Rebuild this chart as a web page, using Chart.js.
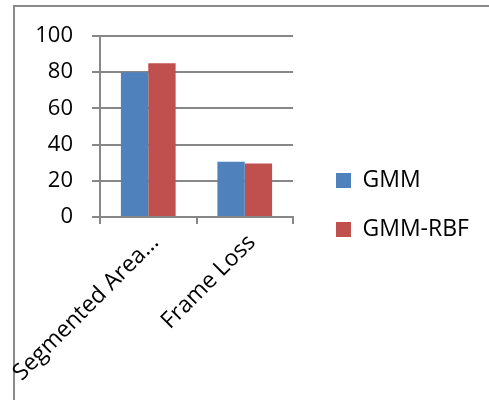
<!DOCTYPE html>
<html>
<head>
<meta charset="utf-8">
<script src="https://cdn.jsdelivr.net/npm/chart.js@4.4.0/dist/chart.umd.min.js"></script>
<style>
  html, body { margin: 0; padding: 0; background: #fff; }
  canvas { display: block; }
</style>
</head>
<body>
<canvas id="chart" width="489" height="400"></canvas>
<script>
// Categories and series values
const categories = ['Segmented Area...', 'Frame Loss'];
const gmmValues = [80, 30.5];
const gmmRbfValues = [85, 29.5];
const yTickValues = [0, 20, 40, 60, 80, 100];

const FONT = '"Open Sans", "DejaVu Sans", sans-serif';
const GRID = '#878787';
const LEGEND_WIDTH = 196;

// White background plus the outer frame (left and top edges)
const framePlugin = {
  id: 'frame',
  beforeDraw(chart) {
    const ctx = chart.ctx;
    ctx.save();
    ctx.fillStyle = '#fff';
    ctx.fillRect(0, 0, chart.width, chart.height);
    ctx.strokeStyle = '#8a8a8a';
    ctx.lineWidth = 2;
    ctx.beginPath();
    ctx.moveTo(14, chart.height + 5);
    ctx.lineTo(14, 6);
    ctx.lineTo(chart.width + 5, 6);
    ctx.stroke();
    ctx.restore();
  }
};

// Give the right-hand legend a fixed column width and nudge its items
const legendPlacement = {
  id: 'legendPlacement',
  beforeUpdate(chart) {
    const legend = chart.legend;
    if (legend && !legend._fixedFit) {
      const fit = legend.fit;
      legend.fit = function () {
        fit.call(this);
        if (this.options.display) this.width = LEGEND_WIDTH;
      };
      legend._fixedFit = true;
    }
  },
  afterLayout(chart) {
    const legend = chart.legend;
    if (!legend) return;
    legend.left += 17; legend.right += 17;
    legend.top -= 13; legend.bottom -= 13;
  }
};

new Chart(document.getElementById('chart'), {
  type: 'bar',
  data: {
    labels: categories,
    datasets: [
      { label: 'GMM', data: gmmValues, backgroundColor: '#4F81BD' },
      { label: 'GMM-RBF', data: gmmRbfValues, backgroundColor: '#C0504D' }
    ]
  },
  options: {
    responsive: false,
    animation: false,
    events: [],
    layout: { padding: { left: 35, top: 36, right: 0, bottom: 0 } },
    datasets: { bar: { categoryPercentage: 0.567, barPercentage: 1.0 } },
    scales: {
      x: {
        afterFit(scale) {
          scale.height = 183;
          scale.paddingLeft = 0; scale.paddingRight = 0;
        },
        grid: { offset: true, drawOnChartArea: false, color: GRID, lineWidth: 2, tickLength: 7 },
        border: { display: true, color: GRID, width: 2 },
        ticks: { minRotation: 45, maxRotation: 45, color: '#000', padding: 5, labelOffset: 7,
                 font: { family: FONT, size: 23 } }
      },
      y: {
        min: 0, max: 100,
        afterFit(scale) {
          scale.width = 65;
          scale.paddingTop = 0; scale.paddingBottom = 0;
        },
        afterBuildTicks(scale) { scale.ticks = yTickValues.map(v => ({ value: v })); },
        grid: { color: GRID, lineWidth: 2, tickLength: 8 },
        border: { display: true, color: GRID, width: 2 },
        ticks: { color: '#000', padding: 19, font: { family: FONT, size: 22 } }
      }
    },
    plugins: {
      tooltip: { enabled: false },
      legend: {
        position: 'right',
        align: 'center',
        labels: { boxWidth: 15, boxHeight: 15, padding: 26, color: '#000',
                  font: { family: FONT, size: 23 } }
      }
    }
  },
  plugins: [framePlugin, legendPlacement]
});
</script>
</body>
</html>
